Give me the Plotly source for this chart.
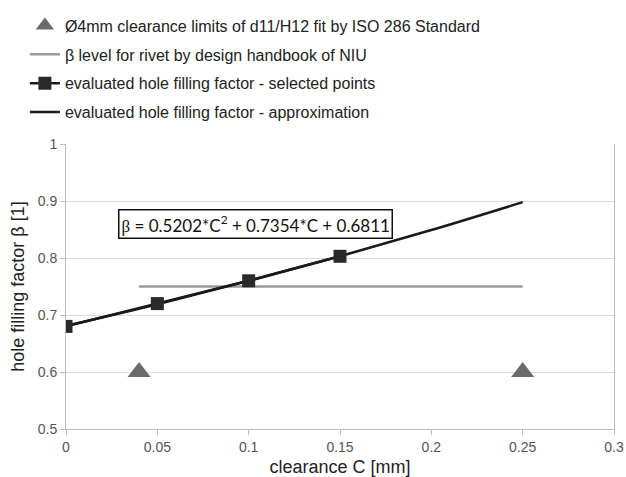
import plotly.graph_objects as go

# Data
limit_x = [0.04, 0.25]
limit_y = [0.6, 0.6]
niu_x = [0.04, 0.25]
niu_y = [0.75, 0.75]
pts_x = [0, 0.05, 0.1, 0.15]
pts_y = [0.68, 0.72, 0.76, 0.803]
approx_x = [0, 0.05, 0.1, 0.15, 0.2, 0.25]
approx_y = [0.681, 0.719, 0.760, 0.803, 0.849, 0.898]
x_ticks = [0, 0.05, 0.1, 0.15, 0.2, 0.25, 0.3]
y_ticks = [0.5, 0.6, 0.7, 0.8, 0.9, 1]

fig = go.Figure()
fig.add_trace(go.Scatter(x=limit_x, y=limit_y, mode="markers",
                         name="Ø4mm clearance limits of d11/H12 fit by ISO 286 Standard",
                         marker=dict(symbol="triangle-up", size=20, color="#6b6b6b"),
                         legendgroup="a"))
fig.add_trace(go.Scatter(x=niu_x, y=niu_y, mode="lines",
                         name="β level for rivet by design handbook of NIU",
                         line=dict(color="#9a9a9a", width=2.5), legendgroup="b"))
fig.add_trace(go.Scatter(x=approx_x, y=approx_y, mode="lines", showlegend=False,
                         line=dict(color="#1a1a1a", width=2.5, shape="spline"), hoverinfo="skip"))
fig.add_trace(go.Scatter(x=pts_x, y=pts_y, mode="lines+markers",
                         name="evaluated hole filling factor - selected points",
                         line=dict(color="#1a1a1a", width=2.5),
                         marker=dict(symbol="square", size=13, color="#2a2a2a"), legendgroup="c"))
fig.add_trace(go.Scatter(x=[None], y=[None], mode="lines",
                         name="evaluated hole filling factor - approximation",
                         line=dict(color="#1a1a1a", width=2.5), legendgroup="d"))

fig.add_annotation(x=0.104, y=0.86, xref="x", yref="y", showarrow=False,
                   text="<span style='font-family:Liberation Serif'>β</span> = 0.5202*C<sup>2</sup> + 0.7354*C + 0.6811",
                   font=dict(family="Lato", size=17, color="#111"),
                   bordercolor="#111", borderwidth=1.5, borderpad=2, bgcolor="white")

fig.update_layout(
    width=626, height=477,
    margin=dict(l=66, r=12, t=144, b=48, autoexpand=False),
    paper_bgcolor="white", plot_bgcolor="white",
    font=dict(family="Liberation Sans", color="#222"),
    showlegend=True,
    legend=dict(x=-0.075, y=1.475, xanchor="left", yanchor="top",
                font=dict(size=16, color="#222"), itemwidth=30,
                traceorder="grouped", tracegroupgap=5, bgcolor="rgba(0,0,0,0)"),
    xaxis=dict(range=[0, 0.3], tickvals=x_ticks, ticktext=[str(v) for v in x_ticks],
               showgrid=False, zeroline=False, showline=True, linecolor="#bdbdbd", linewidth=1,
               ticks="outside", ticklen=5, tickcolor="#bdbdbd", automargin=False,
               tickfont=dict(size=14, color="#555"),
               title=dict(text="clearance C [mm]", font=dict(size=18, color="#222"), standoff=8)),
    yaxis=dict(range=[0.5, 1], tickvals=y_ticks, ticktext=[str(v) for v in y_ticks],
               showgrid=True, gridcolor="#dadada", zeroline=False, showline=True,
               linecolor="#bdbdbd", linewidth=1, mirror=True, automargin=False,
               ticks="outside", ticklen=5, tickcolor="#bdbdbd",
               tickfont=dict(size=14, color="#555"),
               title=dict(text="hole filling factor β [1]", font=dict(size=18, color="#222"), standoff=8)),
)

fig.write_html("out.html", config={"displayModeBar": False},
               post_script="document.body.style.margin='0';document.body.style.overflow='hidden';")
